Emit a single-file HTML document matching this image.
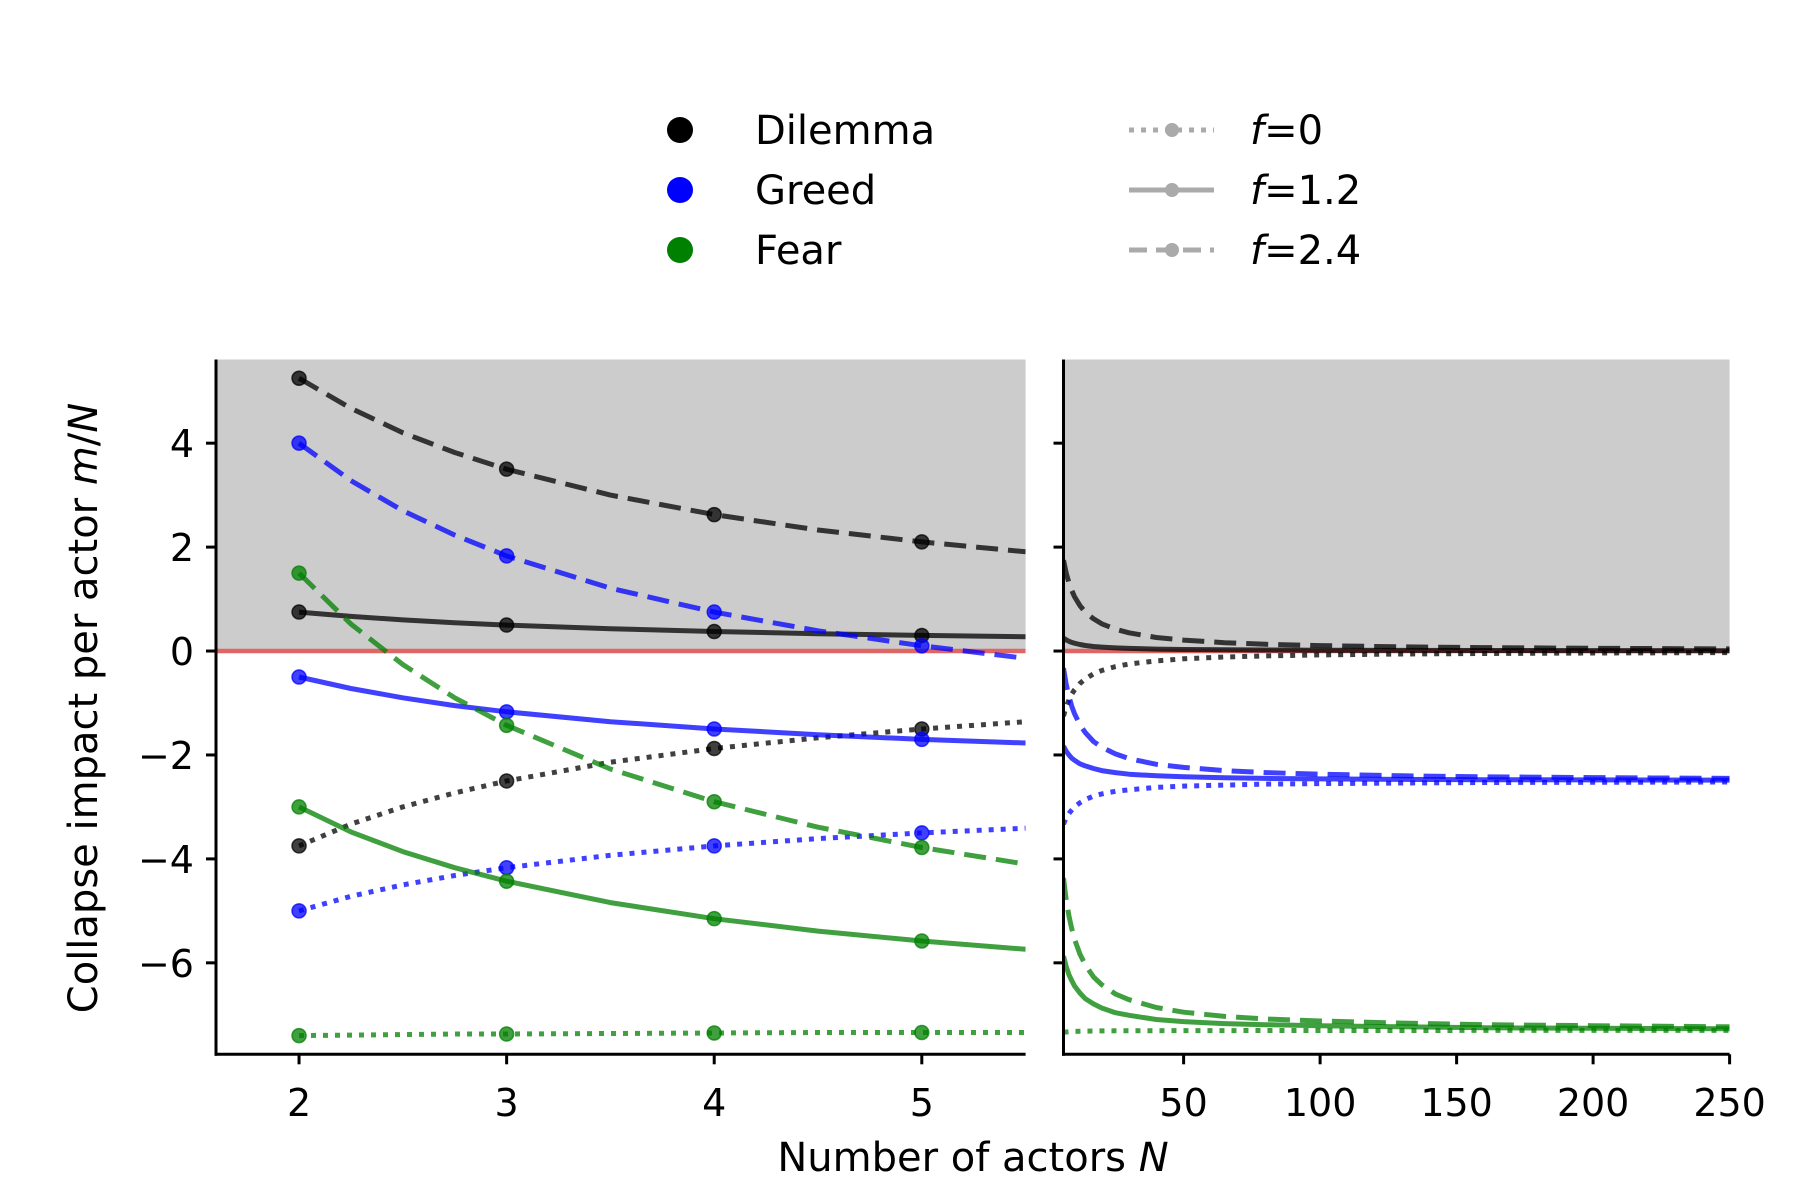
<!DOCTYPE html>
<html><head><meta charset="utf-8"><style>
html,body{margin:0;padding:0;background:#fff}
svg{display:block;font-family:"DejaVu Sans","Liberation Sans",sans-serif}
</style></head><body>
<svg id="chart" width="1800" height="1200" viewBox="0 0 1800 1200">
  <g id="legend">
    <g><circle cx="680" cy="130" r="13" fill="#000"/><text x="755" y="144" font-size="40">Dilemma</text></g>
    <g><circle cx="680" cy="190" r="13" fill="#0000ff"/><text x="755" y="204" font-size="40">Greed</text></g>
    <g><circle cx="680" cy="250" r="13" fill="#008000"/><text x="755" y="264" font-size="40">Fear</text></g>
    <g><line x1="1129" y1="130" x2="1214" y2="130" stroke="#aaa" stroke-width="5" stroke-dasharray="5,7"/><circle cx="1172" cy="130" r="7" fill="#aaa"/><text x="1250" y="144" font-size="40"><tspan font-style="italic">f</tspan>=0</text></g>
    <g><line x1="1129" y1="190" x2="1214" y2="190" stroke="#aaa" stroke-width="5"/><circle cx="1172" cy="190" r="7" fill="#aaa"/><text x="1250" y="204" font-size="40"><tspan font-style="italic">f</tspan>=1.2</text></g>
    <g><line x1="1129" y1="250" x2="1214" y2="250" stroke="#aaa" stroke-width="5" stroke-dasharray="18,9"/><circle cx="1172" cy="250" r="7" fill="#aaa"/><text x="1250" y="264" font-size="40"><tspan font-style="italic">f</tspan>=2.4</text></g>
  </g>
  <text x="97" y="708" font-size="40" text-anchor="middle" transform="rotate(-90 97 708)">Collapse impact per actor <tspan font-style="italic">m</tspan>/<tspan font-style="italic">N</tspan></text>
  <text x="973" y="1171" font-size="40" text-anchor="middle">Number of actors <tspan font-style="italic">N</tspan></text>
</svg>
<script>
// Left panel data (N = 2..5.5)
const leftN = [2,2.25,2.5,2.75,3,3.5,4,4.5,5,5.5];
const leftMarkerN = [2,3,4,5];
const dilDashL = [5.25,4.67,4.2,3.82,3.5,3.0,2.625,2.33,2.1,1.91];
const dilSolidL = [0.75,0.667,0.6,0.545,0.5,0.429,0.375,0.333,0.3,0.273];
const dilDotL = [-3.75,-3.33,-3.0,-2.73,-2.5,-2.14,-1.875,-1.67,-1.5,-1.36];
const grdDashL = [4.0,3.28,2.7,2.23,1.83,1.21,0.75,0.39,0.1,-0.14];
const grdSolidL = [-0.5,-0.72,-0.9,-1.05,-1.17,-1.36,-1.5,-1.61,-1.7,-1.77];
const grdDotL = [-5.0,-4.72,-4.5,-4.32,-4.17,-3.93,-3.75,-3.61,-3.5,-3.41];
const fearDashL = [1.5,0.52,-0.26,-0.9,-1.43,-2.27,-2.9,-3.39,-3.78,-4.1];
const fearSolidL = [-3.0,-3.48,-3.86,-4.17,-4.43,-4.84,-5.15,-5.39,-5.58,-5.74];
const fearDotL = [-7.4,-7.39,-7.38,-7.37,-7.37,-7.36,-7.35,-7.34,-7.34,-7.34];
// Right panel data (N = 6..250)
const rightN = [6,7,8,9,10,12,14,17,20,25,30,40,50,65,80,100,130,160,200,250];
const dilDashR = [1.75,1.5,1.31,1.17,1.05,0.875,0.75,0.62,0.525,0.42,0.35,0.26,0.21,0.16,0.13,0.105,0.08,0.066,0.053,0.042];
const dilSolidR = [0.25,0.214,0.188,0.167,0.15,0.125,0.107,0.088,0.075,0.06,0.05,0.0375,0.03,0.023,0.019,0.015,0.0115,0.0094,0.0075,0.006];
const dilDotR = [-1.25,-1.07,-0.94,-0.83,-0.75,-0.625,-0.536,-0.44,-0.375,-0.3,-0.25,-0.19,-0.15,-0.115,-0.094,-0.075,-0.058,-0.047,-0.0375,-0.03];
const grdDashR = [-0.33,-0.64,-0.875,-1.06,-1.2,-1.42,-1.57,-1.74,-1.85,-1.98,-2.07,-2.18,-2.24,-2.3,-2.34,-2.37,-2.4,-2.42,-2.435,-2.45];
const grdSolidR = [-1.83,-1.93,-2.0,-2.06,-2.1,-2.17,-2.21,-2.26,-2.3,-2.34,-2.37,-2.4,-2.42,-2.44,-2.45,-2.46,-2.47,-2.475,-2.48,-2.484];
const grdDotR = [-3.33,-3.21,-3.125,-3.06,-3.0,-2.92,-2.86,-2.79,-2.75,-2.7,-2.67,-2.625,-2.6,-2.58,-2.56,-2.55,-2.54,-2.53,-2.525,-2.52];
const fearDashR = [-4.37,-4.79,-5.1,-5.34,-5.54,-5.83,-6.04,-6.27,-6.42,-6.6,-6.71,-6.86,-6.95,-7.03,-7.08,-7.12,-7.16,-7.19,-7.21,-7.23];
const fearSolidR = [-5.87,-6.07,-6.23,-6.34,-6.44,-6.58,-6.69,-6.79,-6.87,-6.96,-7.01,-7.09,-7.13,-7.17,-7.19,-7.21,-7.23,-7.25,-7.26,-7.27];
const fearDotR = [-7.333,-7.33,-7.325,-7.32,-7.32,-7.317,-7.314,-7.312,-7.31,-7.308,-7.307,-7.305,-7.304,-7.303,-7.302,-7.302,-7.302,-7.301,-7.301,-7.301];
const yTicks = [4,2,0,-2,-4,-6];
const yTickLabels = ["4","2","0","\u22122","\u22124","\u22126"];
const xTicksL = [2,3,4,5];
const xTicksR = [50,100,150,200,250];

const NS = "http://www.w3.org/2000/svg";
const svg = document.getElementById('chart');
const Y0 = 359.5, Y1 = 1054.3, yMin = -7.76, yMax = 5.61;
const y = v => Y1 - (v - yMin) / (yMax - yMin) * (Y1 - Y0);
const panels = [
  {x0:216, x1:1025.6, lo:1.6, hi:5.5, name:'left'},
  {x0:1063.5, x1:1729.6, lo:6, hi:250, name:'right'}
];
function mk(tag, attrs, parent){
  const e = document.createElementNS(NS, tag);
  for (const k in attrs) e.setAttribute(k, attrs[k]);
  (parent||svg).appendChild(e);
  return e;
}
const colors = {dil:'#000000', grd:'#0000ff', fear:'#008000'};
const dashes = {dot:'5,7', solid:'none', dash:'22,10'};

panels.forEach((p, pi) => {
  const x = v => p.x0 + (v - p.lo) / (p.hi - p.lo) * (p.x1 - p.x0);
  const g = mk('g', {});
  
  
  const cp = mk('clipPath', {id:'clip'+pi}, g);
  mk('rect', {x:p.x0, y:Y0, width:p.x1-p.x0, height:Y1-Y0}, cp);
  const bg = mk('rect', {x:p.x0, y:Y0, width:p.x1-p.x0, height:y(0)-Y0, fill:'#cccccc'}, g);
  
  
  const zl = mk('line', {x1:p.x0, x2:p.x1, y1:y(0), y2:y(0), stroke:'#e06666', 'stroke-width':4.5, 'clip-path':`url(#clip${pi})`}, g);
  
  
  const Ns = pi === 0 ? leftN : rightN;
  const series = pi === 0 ? [
    ['dil','dash',dilDashL],['dil','solid',dilSolidL],['dil','dot',dilDotL],
    ['grd','dash',grdDashL],['grd','solid',grdSolidL],['grd','dot',grdDotL],
    ['fear','dash',fearDashL],['fear','solid',fearSolidL],['fear','dot',fearDotL]
  ] : [
    ['dil','dash',dilDashR],['dil','solid',dilSolidR],['dil','dot',dilDotR],
    ['grd','dash',grdDashR],['grd','solid',grdSolidR],['grd','dot',grdDotR],
    ['fear','dash',fearDashR],['fear','solid',fearSolidR],['fear','dot',fearDotR]
  ];
  series.forEach(([c, st, vals]) => {
    let d = '';
    vals.forEach((v, i) => { d += (i ? 'L' : 'M') + x(Ns[i]).toFixed(1) + ',' + y(v).toFixed(1); });
    const path = mk('path', {d:d, fill:'none', stroke:colors[c], 'stroke-opacity':0.75, 'stroke-width':5,
      'stroke-dasharray':dashes[st], 'stroke-linejoin':'round', 'clip-path':`url(#clip${pi})`}, g);
    
    
    if (pi === 0) {
      leftMarkerN.forEach(n => {
        const idx = Ns.indexOf(n);
        const m = mk('circle', {cx:x(n), cy:y(vals[idx]), r:7, fill:colors[c], 'fill-opacity':0.75, stroke:colors[c], 'stroke-opacity':0.75, 'stroke-width':1.5}, g);
        
        
      });
    }
  });
  mk('line', {x1:p.x0, x2:p.x0, y1:Y0, y2:Y1+1.5, stroke:'#000', 'stroke-width':3}, g);
  mk('line', {x1:p.x0-1.5, x2:p.x1, y1:Y1, y2:Y1, stroke:'#000', 'stroke-width':3}, g);
  yTicks.forEach((t, i) => {
    mk('line', {x1:p.x0-10, x2:p.x0, y1:y(t), y2:y(t), stroke:'#000', 'stroke-width':3}, g);
    if (pi === 0) {
      const tx = mk('text', {x:p.x0-22, y:y(t)+14, 'font-size':38, 'text-anchor':'end'}, g);
      tx.textContent = yTickLabels[i];
      
      
    }
  });
  const xt = pi === 0 ? xTicksL : xTicksR;
  xt.forEach(t => {
    mk('line', {x1:x(t), x2:x(t), y1:Y1, y2:Y1+10, stroke:'#000', 'stroke-width':3}, g);
    const tx = mk('text', {x:x(t), y:1116, 'font-size':38, 'text-anchor':'middle'}, g);
    tx.textContent = String(t);
    
    
  });
});
</script>
</body></html>
